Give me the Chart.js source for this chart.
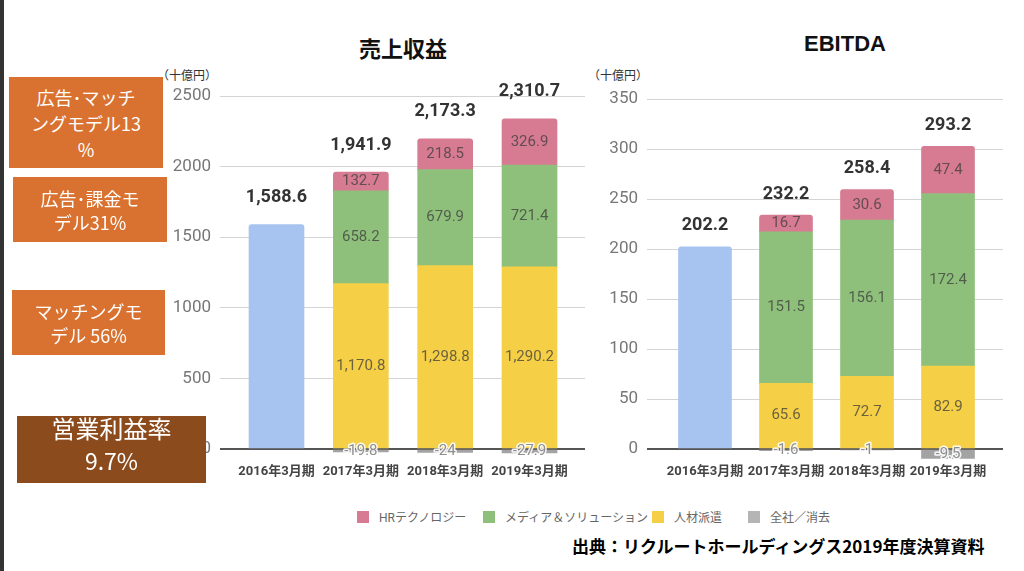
<!DOCTYPE html>
<html>
<head>
<meta charset="utf-8">
<script src="https://cdn.jsdelivr.net/npm/chart.js@4/dist/chart.umd.min.js"></script>
<style>
  body { margin: 0; width: 1024px; height: 571px; background: #fff; position: relative; overflow: hidden;
         font-family: Roboto, "Noto Sans CJK JP", sans-serif; }
  .abs { position: absolute; }
  .title { font-weight: bold; font-size: 22px; color: #111; transform: translateX(-50%); white-space: nowrap; }
  .unit { font-size: 12px; color: #333; font-family: "Noto Sans CJK JP", sans-serif; }
  .box { background: #d97230; color: #fff; font-family: "Noto Sans CJK JP", sans-serif; font-size: 18px;
         display: flex; align-items: center; justify-content: center; text-align: center; }
  .legend-item { display: flex; align-items: center; font-size: 12px; color: #666; white-space: nowrap;
                 font-family: Roboto, "Noto Sans CJK JP", sans-serif; }
  .legend-item span { display: inline-block; width: 12px; height: 12px; margin-right: 10px; }
</style>
</head>
<body>

<div class="abs" style="left:0;top:0;width:4px;height:571px;background:#333"></div>

<div class="abs title" style="left:403px;top:31px;font-family:'Noto Sans CJK JP'">売上収益</div>
<div class="abs title" style="left:845px;top:31px;font-family:'Liberation Sans',Arial">EBITDA</div>
<div class="abs unit" style="left:157px;top:66px">（十億円）</div>
<div class="abs unit" style="left:588px;top:66px">（十億円）</div>

<canvas id="revChart" class="abs" style="left:150px;top:60px" width="445" height="430"></canvas>
<canvas id="ebitdaChart" class="abs" style="left:580px;top:60px" width="440" height="430"></canvas>

<div class="abs box" style="left:9px;top:77px;width:154px;height:91px;line-height:26px">広告･マッチ<br>ングモデル13<br>%</div>
<div class="abs box" style="left:13px;top:177px;width:154px;height:65px;line-height:24px">広告･課金モ<br>デル31%</div>
<div class="abs box" style="left:12px;top:290px;width:153px;height:65px;line-height:24px">マッチングモ<br>デル 56%</div>
<div class="abs" style="left:17px;top:416px;width:189px;height:67px;background:#8c4b1d;color:#fff;font-family:'Noto Sans CJK JP';text-align:center">
  <div style="font-size:24px;line-height:30px;margin-top:-3px">営業利益率</div>
  <div style="font-size:23px;line-height:34px">9.7%</div>
</div>

<div id="legend"></div>

<div class="abs" style="left:572px;top:533px;font-size:17px;font-weight:bold;color:#000;font-family:'Noto Sans CJK JP';white-space:nowrap">出典：リクルートホールディングス2019年度決算資料</div>

<script>
// categories and series
var categories = ['2016年3月期', '2017年3月期', '2018年3月期', '2019年3月期'];
var seriesNames = ['HRテクノロジー', 'メディア＆ソリューション', '人材派遣', '全社／消去'];
var seriesColors = ['#d67b92', '#8fc07b', '#f5cf46', '#b5b5b5'];
var consolidatedColor = '#a7c3f0';

// 売上収益 (十億円)
var revConsolidated = [1588.6, null, null, null];
var revHR = [null, 132.7, 218.5, 326.9];
var revMedia = [null, 658.2, 679.9, 721.4];
var revStaffing = [null, 1170.8, 1298.8, 1290.2];
var revCorp = [null, -19.8, -24, -27.9];
var revTotals = [1588.6, 1941.9, 2173.3, 2310.7];
var revTicks = [0, 500, 1000, 1500, 2000, 2500];

// EBITDA (十億円)
var ebitdaConsolidated = [202.2, null, null, null];
var ebitdaHR = [null, 16.7, 30.6, 47.4];
var ebitdaMedia = [null, 151.5, 156.1, 172.4];
var ebitdaStaffing = [null, 65.6, 72.7, 82.9];
var ebitdaCorp = [null, -1.6, -1, -9.5];
var ebitdaTotals = [202.2, 232.2, 258.4, 293.2];
var ebitdaTicks = [0, 50, 100, 150, 200, 250, 300, 350];

// legend (html, shared by both charts)
var legendLefts = [357, 483, 652, 748];
var legend = document.getElementById('legend');
seriesNames.forEach(function(name, i) {
  var item = document.createElement('div');
  item.className = 'abs legend-item';
  item.style.left = legendLefts[i] + 'px';
  item.style.top = '508px';
  item.innerHTML = '<span style="background:' + seriesColors[i] + '"></span>' + name;
  legend.appendChild(item);
});

function toPoints(arr) {
  var pts = [];
  arr.forEach(function(v, i) {
    if (v !== null) pts.push({x: i, y: v});
  });
  return pts;
}

function fmt(v) {
  return v.toLocaleString('en-US', {maximumFractionDigits: 1});
}

// draws the values inside the segments and the totals above the bars
var barLabels = {
  id: 'barLabels',
  afterDatasetsDraw: function(chart, args, opts) {
    var ctx = chart.ctx;
    ctx.save();
    ctx.textAlign = 'center';
    ctx.textBaseline = 'middle';
    ctx.lineJoin = 'round';
    chart.data.datasets.forEach(function(ds, di) {
      if (ds.isTotal) return;
      var meta = chart.getDatasetMeta(di);
      meta.data.forEach(function(bar, j) {
        var v = ds.data[j].y;
        var cy = (bar.y + bar.base) / 2;
        ctx.font = '15px Roboto';
        if (v < 0) {
          ctx.strokeStyle = 'rgba(255,255,255,0.9)';
          ctx.lineWidth = 3;
          ctx.strokeText(fmt(v), bar.x, cy);
          ctx.fillStyle = '#8e8e8e';
        } else {
          ctx.fillStyle = 'rgba(60,60,60,0.75)';
        }
        ctx.fillText(fmt(v), bar.x, cy);
      });
    });
    // totals: placed above the top of the positive stack
    ctx.font = 'bold 18px Roboto';
    ctx.fillStyle = '#333';
    opts.totals.forEach(function(t, i) {
      var top = 0;
      chart.data.datasets.forEach(function(ds) {
        ds.data.forEach(function(p) {
          if (p.x === i && p.y > 0) top += p.y;
        });
      });
      ctx.fillText(fmt(t), chart.scales.x.getPixelForValue(i), chart.scales.y.getPixelForValue(top) - opts.gap);
    });
    ctx.restore();
  }
};

function makeChart(id, d) {
  var radius = {topLeft: 3, topRight: 3};
  return new Chart(document.getElementById(id), {
    type: 'bar',
    data: {
      datasets: [
        {label: '連結', isTotal: true, data: toPoints(d.consolidated), backgroundColor: consolidatedColor, borderRadius: radius, borderSkipped: 'bottom'},
        {label: seriesNames[2], data: toPoints(d.staffing), backgroundColor: seriesColors[2]},
        {label: seriesNames[1], data: toPoints(d.media), backgroundColor: seriesColors[1]},
        {label: seriesNames[0], data: toPoints(d.hr), backgroundColor: seriesColors[0], borderRadius: radius, borderSkipped: 'bottom'},
        {label: seriesNames[3], data: toPoints(d.corp), backgroundColor: '#a3a3a3'}
      ]
    },
    options: {
      responsive: false,
      animation: false,
      layout: {padding: d.padding},
      datasets: {bar: {barThickness: d.barWidth, clip: false}},
      plugins: {
        legend: {display: false},
        tooltip: {enabled: false},
        barLabels: {totals: d.totals, gap: d.gap}
      },
      scales: {
        x: {
          type: 'linear',
          stacked: true,
          offset: false,
          min: d.xMin,
          max: d.xMax,
          grid: {display: false, drawTicks: false, offset: false},
          border: {display: false},
          afterBuildTicks: function(scale) {
            scale.ticks = categories.map(function(c, i) { return {value: i}; });
          },
          ticks: {
            autoSkip: false,
            maxRotation: 0,
            padding: 15,
            color: '#444',
            font: {family: 'Roboto, "Noto Sans CJK JP"', size: 13, weight: 'bold'},
            callback: function(v) { return categories[v]; }
          },
          afterFit: function(scale) { scale.height = 41; }
        },
        y: {
          stacked: true,
          min: d.ticks[0],
          max: d.ticks[d.ticks.length - 1],
          afterBuildTicks: function(scale) {
            scale.ticks = d.ticks.map(function(v) { return {value: v}; });
          },
          grid: {
            drawTicks: false,
            color: function(c) { return c.tick.value === 0 ? '#555' : '#d4d4d4'; },
            lineWidth: function(c) { return c.tick.value === 0 ? 2 : 1; }
          },
          border: {display: false},
          ticks: {
            padding: 9, color: '#777', font: {family: 'Roboto', size: 17},
            callback: function(v) { return String(v); }
          },
          afterFit: function(scale) { scale.width = d.axisWidth; }
        }
      }
    },
    plugins: [barLabels]
  });
}

makeChart('revChart', {
  consolidated: revConsolidated, hr: revHR, media: revMedia, staffing: revStaffing, corp: revCorp,
  totals: revTotals, ticks: revTicks,
  xMin: -0.67, xMax: 3.658, barWidth: 55, axisWidth: 70, gap: 27,
  padding: {top: 36, right: 10, bottom: 0, left: 0}
});

makeChart('ebitdaChart', {
  consolidated: ebitdaConsolidated, hr: ebitdaHR, media: ebitdaMedia, staffing: ebitdaStaffing, corp: ebitdaCorp,
  totals: ebitdaTotals, ticks: ebitdaTicks,
  xMin: -0.716, xMax: 3.679, barWidth: 53, axisWidth: 67, gap: 21,
  padding: {top: 39, right: 17, bottom: 0, left: 0}
});
</script>
</body>
</html>
